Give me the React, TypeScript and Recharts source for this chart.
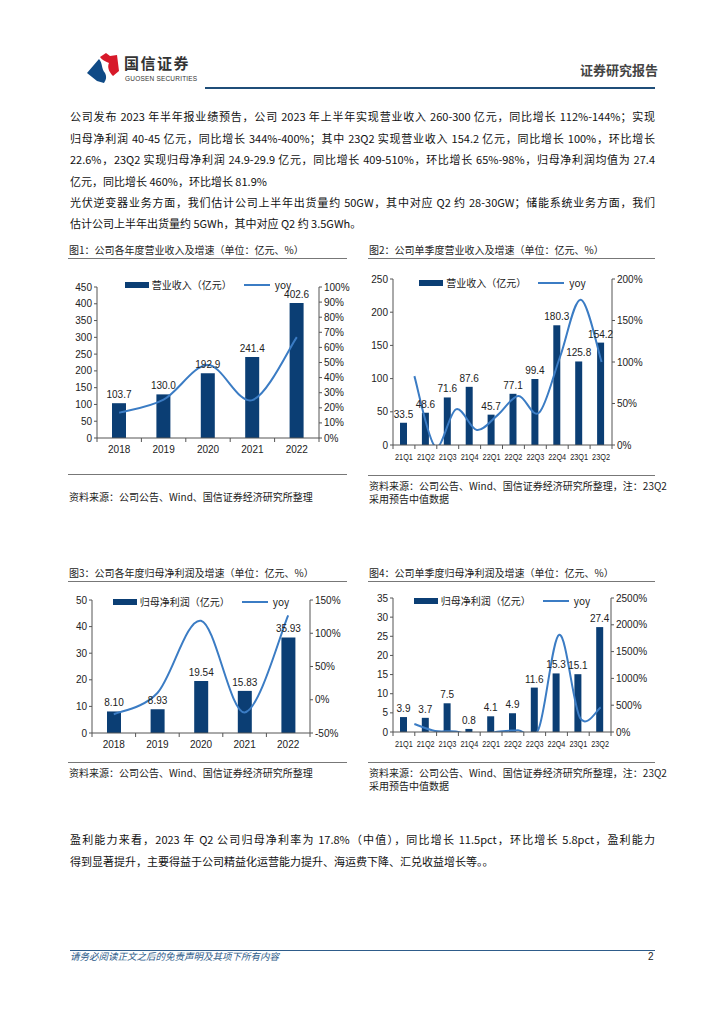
import { ComposedChart, Bar, Line, XAxis, YAxis, Legend, LabelList } from 'recharts'

const BAR = '#0b3e74'
const LINE = '#3b7cc4'
const AX = '#555'
const NUM = "'Liberation Sans', 'Noto Sans CJK SC', sans-serif"
const CJK = "'Noto Sans CJK SC', 'Liberation Sans', sans-serif"

const years = ['2018', '2019', '2020', '2021', '2022']
const quarters = ['21Q1', '21Q2', '21Q3', '21Q4', '22Q1', '22Q2', '22Q3', '22Q4', '23Q1', '23Q2']

const revYear = [103.7, 130.0, 192.9, 241.4, 402.6]
const revYearYoy = [16.7, 25.4, 48.3, 25.1, 66.8]
const revQ = [33.5, 48.6, 71.6, 87.6, 45.7, 77.1, 99.4, 180.3, 125.8, 154.2]
const revQYoy = [83, -2, 43, 18, 36, 59, 39, 106, 175, 100]
const profYear = [8.1, 8.93, 19.54, 15.83, 35.93]
const profYearYoy = [-22, 10.2, 118.8, -19, 127]
const profQ = [3.9, 3.7, 7.5, 0.8, 4.1, 4.9, 11.6, 15.3, 15.1, 27.4]
const profQYoy = [150, 20, 10, -85, 5, 32, 55, 1813, 268, 459]

// excel-like smoothed line (catmull-rom as cubic bezier)
const smooth: any = (ctx: any) => {
  let pts: number[][] = []
  return {
    areaStart() {},
    areaEnd() {},
    lineStart() { pts = [] },
    point(x: number, y: number) { pts.push([x, y]) },
    lineEnd() {
      if (!pts.length) return
      ctx.moveTo(pts[0][0], pts[0][1])
      for (let i = 0; i < pts.length - 1; i++) {
        const p0 = pts[i - 1] || pts[i]
        const p1 = pts[i]
        const p2 = pts[i + 1]
        const p3 = pts[i + 2] || p2
        ctx.bezierCurveTo(
          p1[0] + (p2[0] - p0[0]) / 6, p1[1] + (p2[1] - p0[1]) / 6,
          p2[0] - (p3[0] - p1[0]) / 6, p2[1] - (p3[1] - p1[1]) / 6,
          p2[0], p2[1],
        )
      }
    },
  }
}

const catTick = (band: number, n: number, squeeze: boolean) => (p: any) => {
  const { x, y, payload, index } = p
  return (
    <g>
      <line x1={x - band / 2} x2={x - band / 2} y1={y} y2={y + 4} stroke={AX} />
      {index === n - 1 && <line x1={x + band / 2} x2={x + band / 2} y1={y} y2={y + 4} stroke={AX} />}
      <text x={x} y={y + 15} textAnchor="middle" fontSize={squeeze ? 9.5 : 10} fill="#222" fontFamily={NUM}
        {...(squeeze ? { textLength: band - 4, lengthAdjust: 'spacingAndGlyphs' } : {})}>{payload.value}</text>
    </g>
  )
}

function LegendBox({ name }: { name: string }) {
  return (
    <div style={{ display: 'flex', justifyContent: 'center', alignItems: 'center', fontSize: 10, color: '#222', fontFamily: CJK, lineHeight: '12px' }}>
      <span style={{ display: 'inline-block', width: 24, height: 6, background: BAR, marginRight: 3 }} />
      <span>{name}</span>
      <span style={{ display: 'inline-block', width: 26, height: 2, background: LINE, margin: '0 5px 0 12px' }} />
      <span>yoy</span>
    </div>
  )
}

interface ComboProps {
  left: number
  top: number
  width: number
  height: number
  cats: string[]
  bars: number[]
  yoy: number[]
  barName: string
  yMax: number
  yStep: number
  rMin: number
  rMax: number
  rStep: number
  shifted: boolean
  barSize: number
  decimals: number
  legendTop: number
}

function Combo(c: ComboProps) {
  const data = c.cats.map((q, i) => ({ q, v: c.bars[i], yoy: c.yoy[i] }))
  const yTicks: number[] = []
  for (let v = 0; v <= c.yMax; v += c.yStep) yTicks.push(v)
  const rTicks: number[] = []
  for (let v = c.rMin; v <= c.rMax; v += c.rStep) rTicks.push(v)
  const plotW = c.width - 80
  const band = plotW / c.cats.length
  return (
    <div style={{ position: 'absolute', left: c.left, top: c.top }}>
      <ComposedChart width={c.width} height={c.height} data={data} margin={{ top: 10, right: 0, bottom: 5, left: 0 }}>
        <XAxis xAxisId="b" dataKey="q" height={20} tickSize={0} tickMargin={0} tickLine={false} axisLine={{ stroke: AX }}
          tick={catTick(band, c.cats.length, c.shifted)} interval={0} />
        {c.shifted && <XAxis xAxisId="s" dataKey="q" hide padding={{ left: 11, right: 0 }} />}
        <YAxis yAxisId="l" width={40} domain={[0, c.yMax]} ticks={yTicks} interval={0} tickSize={3} tickMargin={2}
          axisLine={{ stroke: AX }} tickLine={{ stroke: AX }} tick={{ fontSize: 10, fill: '#222', fontFamily: NUM }} />
        <YAxis yAxisId="r" orientation="right" width={40} domain={[c.rMin, c.rMax]} ticks={rTicks} interval={0} allowDataOverflow
          tickSize={3} tickMargin={2} tickFormatter={(v: number) => `${v}%`}
          axisLine={{ stroke: AX }} tickLine={{ stroke: AX }} tick={{ fontSize: 10, fill: '#222', fontFamily: NUM }} />
        <Legend verticalAlign="middle" align="center" width={plotW} wrapperStyle={{ top: c.legendTop, left: 40 }} content={() => <LegendBox name={c.barName} />} />
        <Bar xAxisId="b" yAxisId="l" dataKey="v" fill={BAR} barSize={c.barSize} isAnimationActive={false}>
          <LabelList dataKey="v" position="top" offset={5} fontSize={10} fill="#222" fontFamily={NUM}
            formatter={(v: any) => Number(v).toFixed(c.decimals)} />
        </Bar>
        <Line xAxisId={c.shifted ? 's' : 'b'} yAxisId="r" dataKey="yoy" type={smooth} stroke={LINE} strokeWidth={2} dot={false} isAnimationActive={false} />
      </ComposedChart>
    </div>
  )
}

const T = ({ x, y, size = 10, children, style }: any) => (
  <div style={{ position: 'absolute', left: x, top: y - (size + 2) / 2, fontSize: size, lineHeight: `${size + 2}px`, whiteSpace: 'nowrap', fontFamily: CJK, color: '#222', ...style }}>
    {children}
  </div>
)

const Para = ({ y, full, children }: any) => (
  <div style={{ position: 'absolute', left: 70, top: y - 8, width: 585, fontSize: 11, lineHeight: '16px', fontFamily: CJK, color: '#111',
    textAlign: full ? 'justify' : 'left', textAlignLast: full ? 'justify' : 'left' } as any}>
    {children}
  </div>
)

const HLine = ({ x1, x2, y, h = 1, color = '#777' }: any) => (
  <div style={{ position: 'absolute', left: x1, top: y, width: x2 - x1, height: h, background: color }} />
)

export default function App() {
  return (
    <div style={{ position: 'absolute', left: 0, top: 0, width: 724, height: 1024, background: '#fff', overflow: 'hidden' }}>
      {/* header */}
      <svg style={{ position: 'absolute', left: 86, top: 52 }} width={34} height={32} viewBox="0 0 34 32">
        <path d="M14 5 L20 1 L24 4 L31 3 L33 19 L27 24 C23 20 21 15 23 11 C19 9 16 8 14 5 Z" fill="#d7192a" />
        <path d="M1 21 L13 7 C17 12 15 16 19 21 C21 25 20 28 18 31 L11 29 Z" fill="#0f4a86" />
      </svg>
      <T x={124} y={62} size={15} style={{ fontWeight: 700, letterSpacing: 1.5, color: '#333' }}>国信证券</T>
      <T x={125} y={79} size={6.5} style={{ fontFamily: NUM, color: '#333', letterSpacing: 0.2 }}>GUOSEN SECURITIES</T>
      <T x={580} y={69} size={13} style={{ fontWeight: 700, color: '#444' }}>证券研究报告</T>
      <HLine x1={205} x2={655} y={87} h={2} color="#1f4e79" />

      {/* intro text */}
      <Para y={116} full>公司发布 2023 年半年报业绩预告，公司 2023 年上半年实现营业收入 260-300 亿元，同比增长 112%-144%；实现</Para>
      <Para y={138} full>归母净利润 40-45 亿元，同比增长 344%-400%；其中 23Q2 实现营业收入 154.2 亿元，同比增长 100%，环比增长</Para>
      <Para y={159} full>22.6%，23Q2 实现归母净利润 24.9-29.9 亿元，同比增长 409-510%，环比增长 65%-98%，归母净利润均值为 27.4</Para>
      <Para y={181}>亿元，同比增长 460%，环比增长 81.9%</Para>
      <Para y={202} full>光伏逆变器业务方面，我们估计公司上半年出货量约 50GW，其中对应 Q2 约 28-30GW；储能系统业务方面，我们</Para>
      <Para y={223}>估计公司上半年出货量约 5GWh，其中对应 Q2 约 3.5GWh。</Para>

      {/* chart 1 */}
      <T x={69} y={250}>图1：公司各年度营业收入及增速（单位：亿元、%）</T>
      <HLine x1={68} x2={347} y={258} />
      <Combo left={57} top={277} width={302} height={186} cats={years} bars={revYear} yoy={revYearYoy} barName="营业收入（亿元）"
        yMax={450} yStep={50} rMin={0} rMax={100} rStep={10} shifted={false} barSize={14} decimals={1} legendTop={2} />
      <HLine x1={68} x2={347} y={474} />
      <T x={69} y={497}>资料来源：公司公告、Wind、国信证券经济研究所整理</T>

      {/* chart 2 */}
      <T x={369} y={250}>图2：公司单季度营业收入及增速（单位：亿元、%）</T>
      <HLine x1={368} x2={655} y={258} />
      <Combo left={353} top={269} width={299} height={201} cats={quarters} bars={revQ} yoy={revQYoy} barName="营业收入（亿元）"
        yMax={250} yStep={50} rMin={0} rMax={200} rStep={50} shifted barSize={7} decimals={1} legendTop={8} />
      <HLine x1={368} x2={655} y={475} />
      <T x={369} y={486}>资料来源：公司公告、Wind、国信证券经济研究所整理，注：23Q2</T>
      <T x={369} y={499}>采用预告中值数据</T>

      {/* chart 3 */}
      <T x={69} y={573}>图3：公司各年度归母净利润及增速（单位：亿元、%）</T>
      <HLine x1={68} x2={347} y={581} />
      <Combo left={52} top={590} width={298} height={168} cats={years} bars={profYear} yoy={profYearYoy} barName="归母净利润（亿元）"
        yMax={50} yStep={10} rMin={-50} rMax={150} rStep={50} shifted={false} barSize={14} decimals={2} legendTop={6} />
      <HLine x1={68} x2={347} y={762} />
      <T x={69} y={773}>资料来源：公司公告、Wind、国信证券经济研究所整理</T>

      {/* chart 4 */}
      <T x={369} y={573}>图4：公司单季度归母净利润及增速（单位：亿元、%）</T>
      <HLine x1={368} x2={655} y={581} />
      <Combo left={353} top={588} width={298} height={169} cats={quarters} bars={profQ} yoy={profQYoy} barName="归母净利润（亿元）"
        yMax={35} yStep={5} rMin={0} rMax={2500} rStep={500} shifted barSize={7} decimals={1} legendTop={7} />
      <HLine x1={368} x2={655} y={762} />
      <T x={369} y={773}>资料来源：公司公告、Wind、国信证券经济研究所整理，注：23Q2</T>
      <T x={369} y={786}>采用预告中值数据</T>

      {/* profitability text */}
      <Para y={839} full>盈利能力来看，2023 年 Q2 公司归母净利率为 17.8%（中值），同比增长 11.5pct，环比增长 5.8pct，盈利能力</Para>
      <Para y={861}>得到显著提升，主要得益于公司精益化运营能力提升、海运费下降、汇兑收益增长等。。</Para>

      {/* footer */}
      <HLine x1={70} x2={655} y={950} color="#2e5c8a" />
      <T x={70} y={957} size={9.5} style={{ fontStyle: 'italic', color: '#2e5c8a' }}>请务必阅读正文之后的免责声明及其项下所有内容</T>
      <T x={648} y={957} size={10} style={{ fontFamily: NUM }}>2</T>
    </div>
  )
}
